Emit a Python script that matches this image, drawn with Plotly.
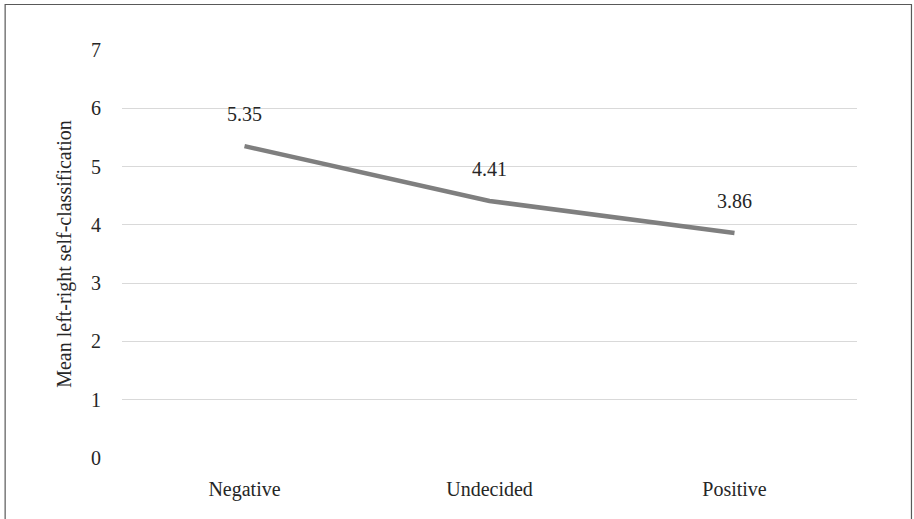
import plotly.graph_objects as go

categories = ["Negative", "Undecided", "Positive"]
values = [5.35, 4.41, 3.86]
value_labels = ["5.35", "4.41", "3.86"]
y_ticks = [0, 1, 2, 3, 4, 5, 6, 7]

FONT = "Liberation Serif"
TEXT = "#262626"
FS = 20

fig = go.Figure()
fig.add_trace(go.Scatter(
    x=categories, y=values, mode="lines",
    line=dict(color="#7f7f7f", width=4.5),
    hoverinfo="skip", showlegend=False,
))

annotations = [
    dict(x=c, y=v, text=t, showarrow=False, yshift=32, xref="x", yref="y",
         font=dict(family=FONT, size=FS, color=TEXT))
    for c, v, t in zip(categories, values, value_labels)
]

fig.update_layout(
    width=914, height=519,
    margin=dict(l=122, r=57, t=50, b=61),
    paper_bgcolor="white", plot_bgcolor="white",
    font=dict(family=FONT, size=FS, color=TEXT),
    xaxis=dict(range=[-0.5, 2.5], showgrid=False, showline=False, zeroline=False,
               ticks="", tickfont=dict(size=FS), ticklabelstandoff=17),
    yaxis=dict(range=[0, 7], tickvals=y_ticks, showgrid=True, gridcolor="#d9d9d9",
               gridwidth=1.3, zeroline=False, showline=False, ticks="",
               ticklabelstandoff=20,
               title=dict(text="Mean left-right self-classification", standoff=14,
                          font=dict(size=FS))),
    annotations=annotations,
    shapes=[dict(type="rect", xref="paper", yref="paper",
                 x0=-0.159, x1=1.0741, y0=-0.2, y1=1.1115,
                 line=dict(color="#595959", width=1.2), fillcolor="rgba(0,0,0,0)",
                 layer="below")],
)

fig.write_html("out.html", config={"displayModeBar": False},
               post_script="document.body.style.margin='0';")
